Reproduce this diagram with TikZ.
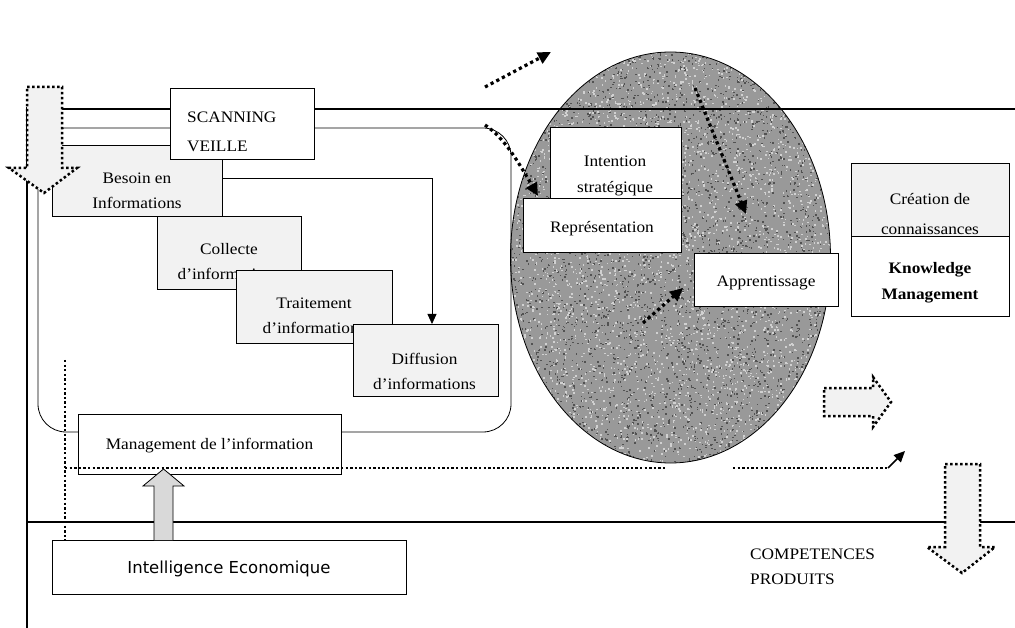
\documentclass[tikz,border=0pt]{standalone}
\usepackage{fontspec}
\setmainfont{Liberation Serif}[FakeStretch=1.08]
\newfontfamily\verd{DejaVu Sans}
\usetikzlibrary{arrows.meta}
\tikzset{
  wbox/.style={draw, fill=white, line width=0.8pt, inner sep=0pt},
  gbox/.style={draw, fill=gray!10, line width=0.8pt, inner sep=0pt},
  txt/.style={inner sep=0pt, align=center, font=\fontsize{16}{25}\selectfont},
  bar/.style={line width=2.8pt},
  dotarrow/.style={line width=3.2pt, dash pattern=on 3.2pt off 3.2pt, -{Triangle[length=13pt,width=12pt]}},
  dotborder/.style={line width=2.5pt, dash pattern=on 2.5pt off 2.5pt, fill=gray!10},
  thindot/.style={line width=2.3pt, dash pattern=on 2.3pt off 2.3pt},
}
\begin{document}
\begin{tikzpicture}[x=1pt,y=-1pt]
\useasboundingbox (0,0) rectangle (1015,628);
\fill[white] (0,0) rectangle (1015,628);
% ellipse with granite texture
\fill[black!40] (670.5,257.5) ellipse [x radius=160pt, y radius=205.5pt];
\begin{scope}
  \clip (670.5,257.5) ellipse [x radius=160pt, y radius=205.5pt];
  \pgfmathsetseed{7}
  \foreach \i in {1,...,3600}{
    \pgfmathsetmacro\px{510+321*rnd}
    \pgfmathsetmacro\py{52+412*rnd}
    \fill[black!68] (\px,\py) rectangle ++(1.5,1.5);
  }
  \foreach \i in {1,...,3600}{
    \pgfmathsetmacro\px{510+321*rnd}
    \pgfmathsetmacro\py{52+412*rnd}
    \fill[black!18] (\px,\py) rectangle ++(1.6,1.6);
  }
\end{scope}
\draw[line width=0.8pt] (670.5,257.5) ellipse [x radius=160pt, y radius=205.5pt];
% frame lines
\draw[bar] (27,109) -- (1015,109);
\draw[bar] (27,107) -- (27,628);
\draw[bar] (27,522) -- (1015,522);
% rounded container
\draw[line width=0.8pt, rounded corners=28pt] (38,128) rectangle (511,432);
% process boxes
\node[gbox, minimum width=170pt, minimum height=71pt] (besoin) at (137,180.5) {};
\node[txt] (besoinT) at (137,191) {Besoin en\\Informations};
\draw[line width=0.8pt, -{Triangle[length=10pt,width=9pt]}] (besoin.east |- 0,178) -- (432,178) -- (432,324);
\node[gbox, minimum width=144pt, minimum height=73pt] (collecte) at (229,252.5) {};
\node[txt] (collecteT) at (229,262) {Collecte\\d’informations};
\node[gbox, minimum width=156pt, minimum height=73pt] (traitement) at (314,306.5) {};
\node[txt] (traitementT) at (314,316) {Traitement\\d’informations};
\node[gbox, minimum width=145pt, minimum height=72pt] (diffusion) at (425.5,360) {};
\node[txt] (diffusionT) at (424.5,371) {Diffusion\\d’informations};
% scanning
\node[wbox, minimum width=144pt, minimum height=71pt] (scan) at (242,123.5) {};
\node[txt, align=left, anchor=west, font=\fontsize{16}{29}\selectfont] (scanT) at (187,132) {SCANNING\\VEILLE};
% management
\node[wbox, minimum width=263pt, minimum height=60pt] (mgmt) at (209.5,444) {};
\node[txt] (mgmtT) at (209.5,446) {Management de l’information};
% dotted lines
\draw[thindot] (65,360) -- (65,540);
\draw[thindot] (65,468) -- (667,468);
\coordinate (dl1) at (733,468);
\coordinate (dl2) at (888,468);
\coordinate (dl3) at (905,451);
\draw[thindot] (dl1) -- (dl2);
\draw[line width=1.5pt, -{Triangle[length=11pt,width=10pt]}] (dl2) -- (dl3);
% intelligence economique
\node[wbox, minimum width=354pt, minimum height=54pt] (intel) at (229,567) {};
\node[inner sep=0pt, font=\verd\fontsize{16.5}{20}\selectfont] (intelT) at (229,569) {Intelligence Economique};
\draw[line width=0.8pt, fill=gray!30] (154,540) -- (154,486) -- (143,486) -- (163.5,469) -- (184,486) -- (173,486) -- (173,540);
% inner ellipse boxes
\node[wbox, minimum width=131pt, minimum height=71pt] (intention) at (615.5,162.5) {};
\node[txt, font=\fontsize{16}{26}\selectfont] (intentionT) at (615,176) {Intention\\stratégique};
\node[wbox, minimum width=158pt, minimum height=54pt] (repr) at (602,225) {};
\node[txt] (reprT) at (602,229) {Représentation};
\node[wbox, minimum width=144pt, minimum height=53pt] (appr) at (766,279.5) {};
\node[txt] (apprT) at (766,283) {Apprentissage};
% knowledge boxes
\node[gbox, minimum width=158pt, minimum height=73pt] (creation) at (930,199.5) {};
\node[txt, font=\fontsize{16}{30}\selectfont] (creationT) at (930,214) {Création de\\connaissances};
\node[wbox, minimum width=158pt, minimum height=80pt] (km) at (930,276) {};
\node[txt, font=\bfseries\fontsize{16}{26}\selectfont] (kmT) at (930,283) {Knowledge\\Management};
% thick dotted arrows
\coordinate (a1s) at (485,87);  \coordinate (a1e) at (551,52);
\coordinate (a2s) at (485,125); \coordinate (a2e) at (538,196);
\coordinate (a3s) at (695,88);  \coordinate (a3e) at (746,214);
\coordinate (a4s) at (643,323); \coordinate (a4e) at (683,288);
\draw[dotarrow] (a1s) -- (a1e);
\draw[dotarrow] (a2s) .. controls (505,138) and (520,165) .. (a2e);
\draw[dotarrow] (a3s) -- (a3e);
\draw[dotarrow] (a4s) -- (a4e);
% dotted block arrows
\draw[dotborder] (824,388) -- (873,388) -- (873,377) -- (891,402) -- (873,427) -- (873,416) -- (824,416) -- cycle;
\draw[dotborder] (945,464) -- (980,464) -- (980,547) -- (995,547) -- (962,573) -- (927,547) -- (945,547) -- cycle;
\draw[dotborder] (27,87) -- (62,87) -- (62,168) -- (77,168) -- (44,193) -- (9,168) -- (27,168) -- cycle;
% competences
\node[txt, align=left, anchor=west] (compT) at (750,567) {COMPETENCES\\PRODUITS};
\end{tikzpicture}
\end{document}
